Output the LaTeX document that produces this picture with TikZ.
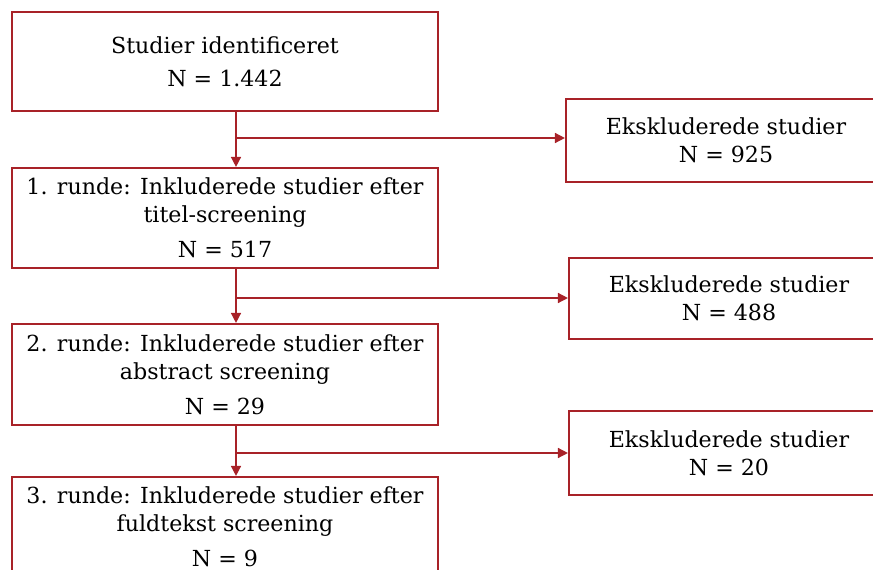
\documentclass[tikz,border=0pt]{standalone}
\usepackage{fontspec}
\setmainfont{DejaVu Serif}
\usepackage{tikz}
\usetikzlibrary{arrows.meta, positioning}
\definecolor{flowred}{RGB}{168,34,40}

\begin{document}
\begin{tikzpicture}[x=0.75pt,y=-0.75pt,
  box/.style={draw=flowred,line width=1.6pt,fill=white,align=center,
    minimum width=426*0.75pt,inner sep=0pt,font=\fontsize{16.6}{21}\selectfont},
  exbox/.style={box,minimum width=320*0.75pt},
  flow/.style={draw=flowred,line width=1.1pt,-{Triangle[length=7.5pt,width=7.5pt]}}]
\useasboundingbox (0,0) rectangle (873,570);
\clip (0,0) rectangle (873,570);

% Left column
\node[box,minimum height=99*0.75pt] (id) at (225,61.5)
  {Studier identificeret\\[4pt] N = 1.442};
\node[box,minimum height=100*0.75pt] (r1) at (225,218)
  {1. runde: Inkluderede studier efter\\ titel-screening\\[5pt] N = 517};
\node[box,minimum height=101*0.75pt] (r2) at (225,374.5)
  {2. runde: Inkluderede studier efter\\ abstract screening\\[5pt] N = 29};
\node[box,minimum height=100*0.75pt] (r3) at (225,527)
  {3. runde: Inkluderede studier efter\\ fuldtekst screening\\[5pt] N = 9};

% Excluded
\node[exbox,minimum height=83*0.75pt] (ex1) at (726,140.5)
  {Ekskluderede studier\\ N = 925};
\node[exbox,minimum height=81*0.75pt] (ex2) at (729,298.5)
  {Ekskluderede studier\\ N = 488};
\node[exbox,minimum height=84*0.75pt] (ex3) at (729,453)
  {Ekskluderede studier\\ N = 20};

% Branch points
\coordinate (b1) at (236,138);
\coordinate (b2) at (236,298);
\coordinate (b3) at (236,453);

% Arrows
\draw[flow] (id.south -| b1) -- (r1.north -| b1);
\draw[flow] (r1.south -| b2) -- (r2.north -| b2);
\draw[flow] (r2.south -| b3) -- (r3.north -| b3);
\draw[flow] (b1) -- (b1 -| ex1.west);
\draw[flow] (b2) -- (b2 -| ex2.west);
\draw[flow] (b3) -- (b3 -| ex3.west);
\end{tikzpicture}
\end{document}
